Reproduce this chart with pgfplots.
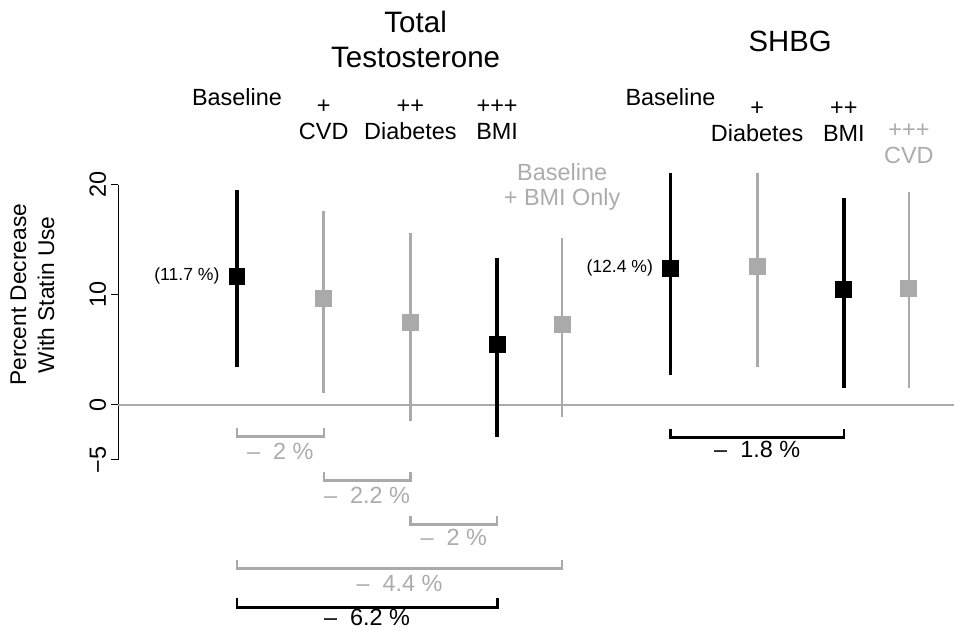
\documentclass[border=0pt]{standalone}
\usepackage{pgfplots}
\pgfplotsset{compat=1.18}
\usepackage{pgfplotstable}
\usepackage{fontspec}
\setmainfont{Liberation Sans}
\definecolor{lg}{RGB}{170,170,170}
\definecolor{lgt}{RGB}{172,172,172}

\pgfplotstableread{
x    y     lo    hi
1    11.7  3.4   19.5
4    5.5   -2.9  13.3
6    12.4  2.7   21.1
8    10.5  1.5   18.8
}\blackdata
\pgfplotstableread{
x    y     lo    hi
2    9.7   1.1   17.6
3    7.5   -1.5  15.6
4.75 7.3   -1.1  15.2
7    12.6  3.4   21.1
8.75 10.6  1.5   19.3
}\graydata

\begin{document}
\begin{tikzpicture}
\begin{axis}[
  x=1.3005cm, y=0.165cm,
  xmin=-0.37, xmax=9.27, ymin=-5, ymax=20,
  clip=false,
  axis y line=left, axis x line=none,
  axis line style={-, line width=0.5pt},
  ytick={-5,0,10,20},
  yticklabels={−5,0,10,20},
  tick align=outside,
  major tick length=0.105cm,
  tick style={black, line width=0.5pt},
  yticklabel style={rotate=90, anchor=south, font=\fontsize{10}{11}\selectfont, inner sep=2pt},
  /pgf/number format/assume math mode=true,
  font=\fontsize{10}{11}\selectfont,
]
\coordinate (bl) at (axis cs:-1.734,-20.5);
\coordinate (tr) at (axis cs:9.27,36.8);
% zero line
\addplot[lg, line width=0.8pt] coordinates {(-0.37,0) (9.27,0)};

% brackets (gray)
\addplot[lg, line width=1pt] coordinates {(1,-2.1) (1,-2.9) (2,-2.9) (2,-2.1)};
\addplot[lg, line width=1pt] coordinates {(2,-6.1) (2,-6.9) (3,-6.9) (3,-6.1)};
\addplot[lg, line width=1pt] coordinates {(3,-10.1) (3,-10.9) (4,-10.9) (4,-10.1)};
\addplot[lg, line width=1pt] coordinates {(1,-14.1) (1,-14.9) (4.75,-14.9) (4.75,-14.1)};
% brackets (black)
\addplot[black, line width=1.2pt] coordinates {(1,-17.6) (1,-18.4) (4,-18.4) (4,-17.6)};
\addplot[black, line width=1.2pt] coordinates {(6,-2.2) (6,-3.0) (8,-3.0) (8,-2.2)};

% gray estimates with intervals
\addplot[only marks, mark=square*, mark size=3.4pt, mark options={fill=lg, draw=lg, line width=0pt},
  error bars/.cd, y dir=both, y explicit, error mark=none,
  error bar style={lg, line width=1.1pt}]
  table[x=x, y=y, y error plus expr=\thisrow{hi}-\thisrow{y}, y error minus expr=\thisrow{y}-\thisrow{lo}] {\graydata};
% black estimates with intervals
\addplot[only marks, mark=square*, mark size=3.4pt, mark options={fill=black, draw=black, line width=0pt},
  error bars/.cd, y dir=both, y explicit, error mark=none,
  error bar style={black, line width=1.6pt}]
  table[x=x, y=y, y error plus expr=\thisrow{hi}-\thisrow{y}, y error minus expr=\thisrow{y}-\thisrow{lo}] {\blackdata};

% y label
\node[rotate=90, align=center, font=\fontsize{9.7}{12}\selectfont] at (axis cs:-1.36,10) {Percent Decrease\\With Statin Use};

% titles
\node[align=center, font=\fontsize{12.6}{14.9}\selectfont] at (axis cs:3.06,33.2) {Total\\Testosterone};
\node[font=\fontsize{12.5}{14.9}\selectfont] at (axis cs:7.38,33.0) {SHBG};

% column headers
\node at (axis cs:1,28.0) {Baseline};
\node[align=center] at (axis cs:2,25.9) {+\\CVD};
\node[align=center] at (axis cs:3,25.9) {++\\Diabetes};
\node[align=center] at (axis cs:4,25.9) {+++\\BMI};
\node[align=center, text=lgt] at (axis cs:4.75,19.8) {Baseline\\+ BMI Only};
\node at (axis cs:6,28.0) {Baseline};
\node[align=center] at (axis cs:7,25.7) {+\\Diabetes};
\node[align=center] at (axis cs:8,25.7) {++\\BMI};
\node[align=center, text=lgt] at (axis cs:8.75,23.7) {+++\\CVD};

% value labels
\node[anchor=east, font=\fontsize{7.5}{8}\selectfont, inner sep=1pt] at (axis cs:0.83,11.7) {(11.7 \%)};
\node[anchor=east, font=\fontsize{7.5}{8}\selectfont, inner sep=1pt] at (axis cs:5.83,12.4) {(12.4 \%)};

% bracket labels
\node[text=lgt] at (axis cs:1.5,-4.2) {–\ \ 2 \%};
\node[text=lgt] at (axis cs:2.5,-8.2) {–\ \ 2.2 \%};
\node[text=lgt] at (axis cs:3.5,-12.1) {–\ \ 2 \%};
\node[text=lgt] at (axis cs:2.875,-16.2) {–\ \ 4.4 \%};
\node[inner sep=0pt] at (axis cs:2.5,-19.3) {–\ \ 6.2 \%};
\node at (axis cs:7,-4.1) {–\ \ 1.8 \%};
\end{axis}
\pgfresetboundingbox
\path[use as bounding box] (bl) rectangle (tr);
\end{tikzpicture}
\end{document}
